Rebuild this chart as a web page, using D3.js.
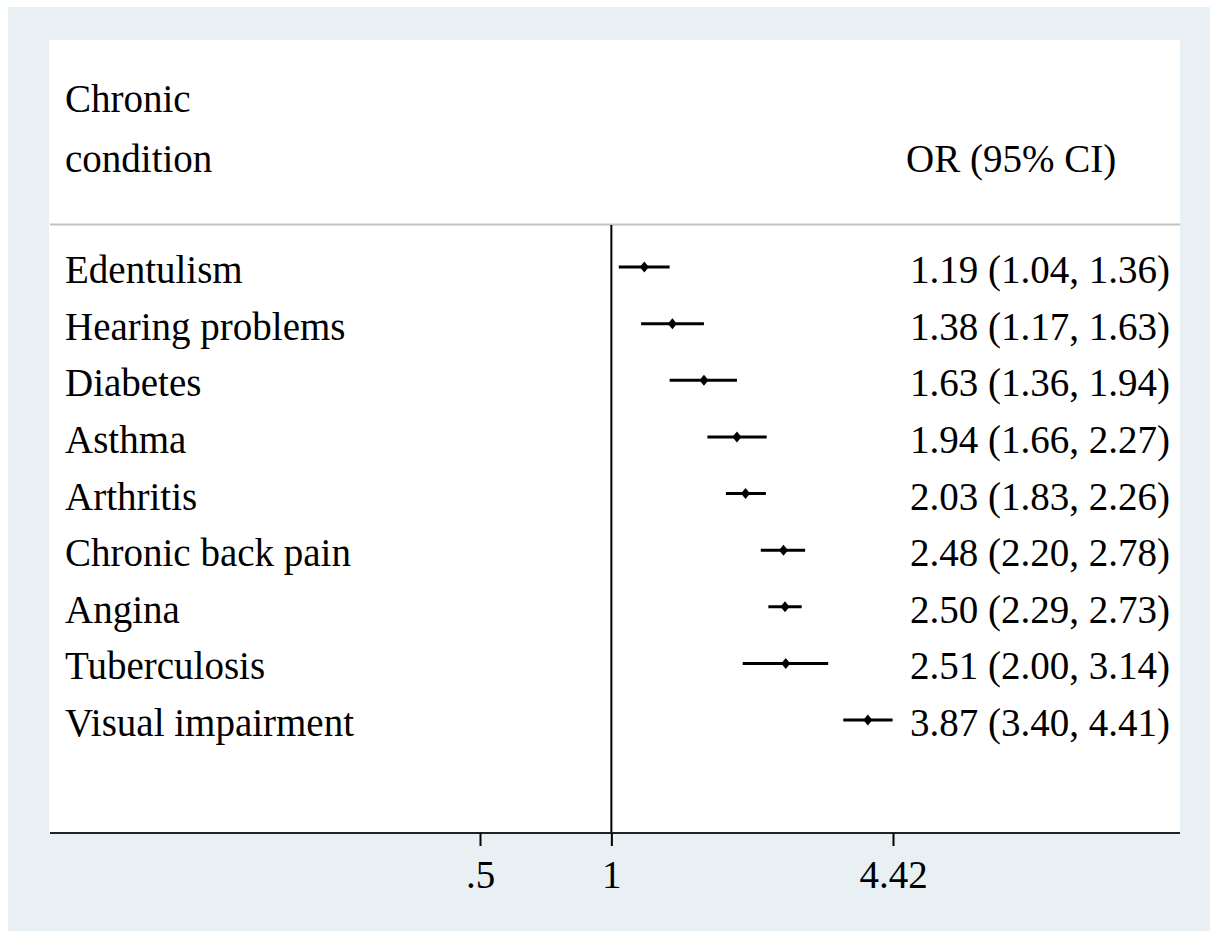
<!DOCTYPE html>
<html>
<head>
<meta charset="utf-8">
<script src="https://cdn.jsdelivr.net/npm/d3@7"></script>
<style>
  html, body { margin: 0; padding: 0; background: #ffffff; }
  svg { display: block; }
  text { font-family: "Liberation Serif", "Times New Roman", serif; fill: #000; }
</style>
</head>
<body>
<svg id="chart" width="1210" height="931"></svg>
<script>
const conditions = ["Edentulism", "Hearing problems", "Diabetes", "Asthma", "Arthritis",
  "Chronic back pain", "Angina", "Tuberculosis", "Visual impairment"];
const orValues = [1.19, 1.38, 1.63, 1.94, 2.03, 2.48, 2.50, 2.51, 3.87];
const lowerCI  = [1.04, 1.17, 1.36, 1.66, 1.83, 2.20, 2.29, 2.00, 3.40];
const upperCI  = [1.36, 1.63, 1.94, 2.27, 2.26, 2.78, 2.73, 3.14, 4.41];
const tickValues = [0.5, 1, 4.42];
const tickLabels = [".5", "1", "4.42"];
const headerLeft = ["Chronic", "condition"];
const headerRight = "OR (95% CI)";

const svg = d3.select("#chart");
const fs = 39;

// outer background
svg.append("rect").attr("x", 8).attr("y", 7).attr("width", 1202).attr("height", 924).attr("fill", "#e8f0f3");
// inner plot panel
const panel = {left: 50, right: 1180, top: 40, bottom: 833};
svg.append("rect").attr("x", panel.left - 1).attr("y", panel.top)
  .attr("width", panel.right - panel.left + 1).attr("height", panel.bottom - panel.top).attr("fill", "#ffffff");

const x = d3.scaleLog().domain([0.5, 4.42]).range([480, 893]);
const y = d3.scalePoint().domain(conditions).range([267, 720]);

// header
svg.selectAll("text.hl").data(headerLeft).join("text").attr("class", "hl")
  .attr("x", 65).attr("y", (d, i) => 112 + i * 60).attr("font-size", fs).text(d => d);
svg.append("text").attr("x", 906).attr("y", 172).attr("font-size", fs).text(headerRight);

// header separator
svg.append("line").attr("x1", panel.left).attr("x2", panel.right).attr("y1", 224.5).attr("y2", 224.5)
  .attr("stroke", "#c2c2c2").attr("stroke-width", 2);

// null line
svg.append("line").attr("x1", x(1)).attr("x2", x(1)).attr("y1", 225).attr("y2", panel.bottom)
  .attr("stroke", "#000").attr("stroke-width", 2);

const rows = conditions.map((c, i) => ({c, or: orValues[i], lo: lowerCI[i], hi: upperCI[i]}));

// CI lines
svg.selectAll("line.ci").data(rows).join("line").attr("class", "ci")
  .attr("x1", d => x(d.lo)).attr("x2", d => x(d.hi))
  .attr("y1", d => y(d.c)).attr("y2", d => y(d.c))
  .attr("stroke", "#000").attr("stroke-width", 3);

// diamonds
svg.selectAll("path.pt").data(rows).join("path").attr("class", "pt")
  .attr("d", d => {
    const cx = x(d.or), cy = y(d.c), w = 4.5, h = 5.5;
    return `M${cx - w},${cy}L${cx},${cy - h}L${cx + w},${cy}L${cx},${cy + h}Z`;
  })
  .attr("fill", "#000");

// labels
svg.selectAll("text.lab").data(rows).join("text").attr("class", "lab")
  .attr("x", 65).attr("y", d => y(d.c) + 16).attr("font-size", fs).text(d => d.c);
svg.selectAll("text.val").data(rows).join("text").attr("class", "val")
  .attr("x", 910).attr("y", d => y(d.c) + 16).attr("font-size", fs)
  .text(d => `${d.or.toFixed(2)} (${d.lo.toFixed(2)}, ${d.hi.toFixed(2)})`);

// x axis
const axisG = svg.append("g").attr("transform", `translate(0,${panel.bottom})`);
axisG.append("line").attr("x1", panel.left).attr("x2", panel.right).attr("y1", 0).attr("y2", 0)
  .attr("stroke", "#222").attr("stroke-width", 2);
const axis = d3.axisBottom(x).tickValues(tickValues).tickFormat((d, i) => tickLabels[i]).tickSize(13).tickPadding(14);
const ag = axisG.append("g").call(axis);
ag.select(".domain").remove();
ag.selectAll(".tick line").attr("stroke", "#000").attr("stroke-width", 2);
ag.selectAll(".tick text").attr("font-size", fs).attr("font-family", "Liberation Serif").attr("fill", "#000");
</script>
</body>
</html>
